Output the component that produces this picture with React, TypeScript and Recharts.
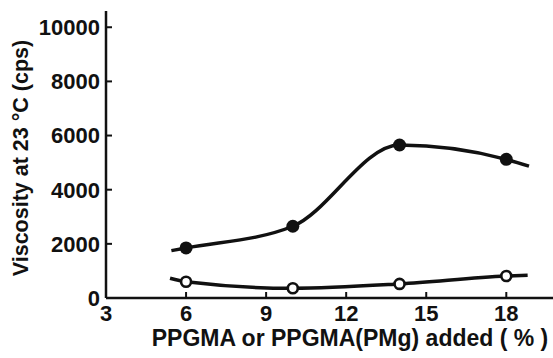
import { Line, LineChart, XAxis, YAxis } from "recharts";

// filled circles (PPGMA) – first/last entries are the curve ends, no marker
const filledX = [5.45, 6, 10, 14, 18, 18.85];
const filledY = [1750, 1850, 2650, 5650, 5120, 4870];

// open circles (PPGMA(PMg))
const openX = [5.4, 6, 10, 14, 18, 18.8];
const openY = [730, 600, 360, 520, 810, 840];

const markedX = [6, 10, 14, 18];
const xTicks = [3, 6, 9, 12, 15, 18];
const yTicks = [0, 2000, 4000, 6000, 8000, 10000];

const filledData = filledX.map((x, i) => ({ x, v: filledY[i] }));
const openData = openX.map((x, i) => ({ x, v: openY[i] }));

const FONT = "'Liberation Sans', Arial, sans-serif";
const INK = "#111";

const tickStyle = { fontSize: 22, fontWeight: 700, fill: INK, fontFamily: FONT };

function FilledDot(props: any) {
  const { cx, cy, payload, index } = props;
  if (!markedX.includes(payload.x)) return <g key={`f-${index}`} />;
  return <circle key={`f-${index}`} cx={cx} cy={cy} r={6.5} fill={INK} stroke="none" />;
}

function OpenDot(props: any) {
  const { cx, cy, payload, index } = props;
  if (!markedX.includes(payload.x)) return <g key={`o-${index}`} />;
  return <circle key={`o-${index}`} cx={cx} cy={cy} r={5} fill="#fff" stroke={INK} strokeWidth={2.6} />;
}

export default function App() {
  return (
    <div style={{ position: "absolute", left: 0, top: 0, width: 553, height: 358, background: "#fff" }}>
      <LineChart width={553} height={358} margin={{ top: 11, right: 0, bottom: 0, left: 0 }}>
        <XAxis
          dataKey="x"
          type="number"
          domain={[3, 19.75]}
          ticks={xTicks}
          allowDataOverflow
          height={60}
          axisLine={{ stroke: INK, strokeWidth: 2.5 }}
          tickLine={{ stroke: INK, strokeWidth: 2 }}
          tickSize={-6}
          tickMargin={13}
          tick={tickStyle}
          label={{
            content: () => (
              <text x={350} y={346} textAnchor="middle" fontSize={23} fontWeight={700} fill={INK} fontFamily={FONT}>
                PPGMA or PPGMA(PMg) added ( % )
              </text>
            ),
          }}
        />
        <YAxis
          type="number"
          domain={[0, 10600]}
          ticks={yTicks}
          allowDataOverflow
          width={106}
          axisLine={{ stroke: INK, strokeWidth: 2.5 }}
          tickLine={{ stroke: INK, strokeWidth: 2 }}
          tickSize={-6}
          tickMargin={12}
          tick={tickStyle}
          label={{
            content: () => (
              <text
                x={0}
                y={0}
                transform="translate(28, 158) rotate(-90)"
                textAnchor="middle"
                fontSize={21.5}
                fontWeight={700}
                fill={INK}
                fontFamily={FONT}
              >
                Viscosity at 23 °C (cps)
              </text>
            ),
          }}
        />
        <Line
          data={filledData}
          dataKey="v"
          type="monotone"
          stroke={INK}
          strokeWidth={3.5}
          dot={FilledDot}
          activeDot={false}
          isAnimationActive={false}
        />
        <Line
          data={openData}
          dataKey="v"
          type="monotone"
          stroke={INK}
          strokeWidth={3.5}
          dot={OpenDot}
          activeDot={false}
          isAnimationActive={false}
        />
      </LineChart>
    </div>
  );
}
